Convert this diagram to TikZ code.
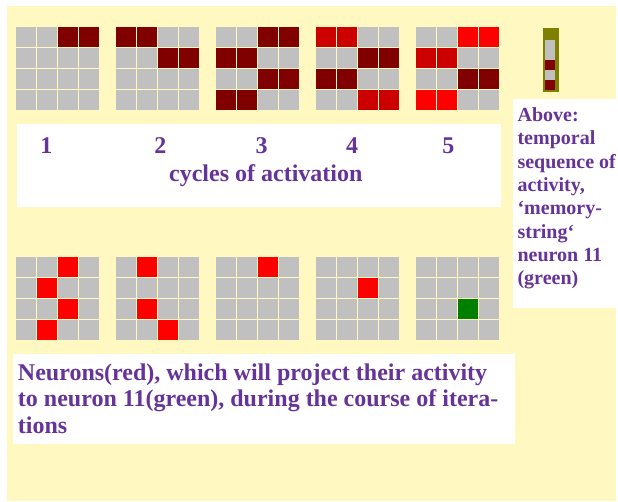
\documentclass[tikz,border=0pt]{standalone}
\usepackage{fontspec}
\setmainfont{Liberation Serif}

\definecolor{paper}{RGB}{255,248,192}
\definecolor{idle}{RGB}{192,192,192}
\definecolor{dk}{RGB}{128,0,0}
\definecolor{md}{RGB}{204,0,0}
\definecolor{br}{RGB}{255,0,0}
\definecolor{gn}{RGB}{0,128,0}
\definecolor{frame}{RGB}{128,128,0}
\definecolor{ink}{RGB}{102,51,153}

% a 4x4 block of neurons: #1 = left, #2 = top, #3 = 16 colours row by row
\newcommand{\cellgrid}[3]{%
  \foreach \cc [count=\ii from 0] in {#3} {
    \pgfmathtruncatemacro\gr{\ii/4}
    \pgfmathtruncatemacro\gc{mod(\ii,4)}
    \fill[\cc] ({#1+\gc*20.85},{#2+\gr*20.85}) rectangle ++(20.2,20.2);
  }}

\tikzset{
  big/.style={font=\fontsize{18}{20}\selectfont\bfseries, text=ink, inner sep=0pt},
  side/.style={font=\fontsize{15}{17}\selectfont\bfseries, text=ink, inner sep=0pt, anchor=base west},
}

\begin{document}
\begin{tikzpicture}[x=0.75pt, y=-0.75pt]
  \useasboundingbox (0,0) rectangle (618,501);
  \fill[white] (0,0) rectangle (618,501);
  \fill[paper] (7,6) rectangle (616,501);

  % caption panels
  \fill[white] (17,124) rectangle (501,207);
  \fill[white] (513,99) rectangle (618,308);
  \fill[white] (13,354) rectangle (515,444);

  % cycles of activation
  \cellgrid{16}{27}{idle,idle,dk,dk, idle,idle,idle,idle, idle,idle,idle,idle, idle,idle,idle,idle}
  \cellgrid{116}{27}{dk,dk,idle,idle, idle,idle,dk,dk, idle,idle,idle,idle, idle,idle,idle,idle}
  \cellgrid{216}{27}{idle,idle,dk,dk, dk,dk,idle,idle, idle,idle,dk,dk, dk,dk,idle,idle}
  \cellgrid{316}{27}{md,md,idle,idle, idle,idle,dk,dk, dk,dk,idle,idle, idle,idle,md,md}
  \cellgrid{416}{27}{idle,idle,br,br, md,md,idle,idle, idle,idle,dk,dk, br,br,idle,idle}

  % memory string of neuron 11
  \fill[frame] (542.7,28) rectangle (559,91.7);
  \fill[idle] (545,40) rectangle (555,60);
  \fill[dk]   (545,60) rectangle (555,70);
  \fill[idle] (545,70) rectangle (555,80);
  \fill[dk]   (545,80) rectangle (555,90);

  % projecting neurons
  \cellgrid{16}{257}{idle,idle,br,idle, idle,br,idle,idle, idle,idle,br,idle, idle,br,idle,idle}
  \cellgrid{116}{257}{idle,br,idle,idle, idle,idle,idle,idle, idle,br,idle,idle, idle,idle,br,idle}
  \cellgrid{216}{257}{idle,idle,br,idle, idle,idle,idle,idle, idle,idle,idle,idle, idle,idle,idle,idle}
  \cellgrid{316}{257}{idle,idle,idle,idle, idle,idle,br,idle, idle,idle,idle,idle, idle,idle,idle,idle}
  \cellgrid{416}{257}{idle,idle,idle,idle, idle,idle,idle,idle, idle,idle,gn,idle, idle,idle,idle,idle}

  % labels
  \node[big, anchor=base] (n1) at (46.3,153.3) {1};
  \node[big, anchor=base] (n2) at (160.3,153.3) {2};
  \node[big, anchor=base] (n3) at (261.5,153.3) {3};
  \node[big, anchor=base] (n4) at (352,153.3) {4};
  \node[big, anchor=base] (n5) at (448.3,153.3) {5};
  \node[big, anchor=base] (cyc) at (265.8,181) {cycles of activation};

  \node[side] (s1) at (517.3,121.5) {Above:};
  \node[side] (s2) at (517.3,144.8) {temporal};
  \node[side] (s3) at (517.3,168.1) {sequence of};
  \node[side] (s4) at (517.3,191.4) {activity,};
  \node[side] (s5) at (517.3,214.7) {‘memory-};
  \node[side] (s6) at (517.3,238.0) {string‘};
  \node[side] (s7) at (517.3,261.3) {neuron 11};
  \node[side] (s8) at (517.3,284.6) {(green)};

  \node[big, anchor=base west] (b1) at (17.7,380) {Neurons(red), which will project their activity};
  \node[big, anchor=base west] (b2) at (17.7,406.7) {to neuron 11(green), during the course of itera-};
  \node[big, anchor=base west] (b3) at (17.7,433.3) {tions};
\end{tikzpicture}
\end{document}
